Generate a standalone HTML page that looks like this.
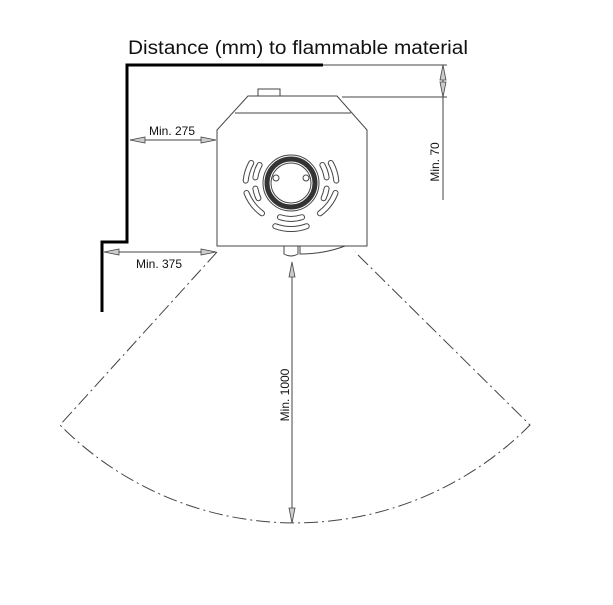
<!DOCTYPE html>
<html><head><style>body{margin:0;background:#fff}</style></head><body>
<svg width="613" height="600" xmlns="http://www.w3.org/2000/svg" font-family="Liberation Sans, sans-serif">
<rect width="613" height="600" fill="#fff"/>
<text x="128" y="54" font-size="19" textLength="340" lengthAdjust="spacingAndGlyphs" fill="#111">Distance (mm) to flammable material</text>
<polyline points="323,65 127,65 127,242 102,242 102,312" fill="none" stroke="#000" stroke-width="3"/>
<!-- stove -->
<g fill="none" stroke="#444" stroke-width="1">
<rect x="258" y="89" width="22" height="8"/>
<path d="M248,96 H337 L367,130 V246 H217 V130 Z" fill="#fff"/>
<line x1="235" y1="113" x2="351" y2="113"/>
<path d="M284,246 v8 q7,4 14,0 v-8 M300,246 v8 q24,0 45,-8"/>
</g>
<g id="vents" fill="none" stroke-linecap="round">
<g stroke="#444" stroke-width="6">
<path d="M255.4,177.4 A36,36 0 0 1 259.6,165.0"/>
<path d="M245.7,180.6 A46,46 0 0 1 251.2,163.0"/>
<path d="M258.4,198.2 A36,36 0 0 1 255.4,188.6"/>
<path d="M262.0,213.3 A46,46 0 0 1 246.5,193.0"/>
<path d="M280.0,217.2 A36,36 0 0 0 302.0,217.2"/>
<path d="M275.3,226.2 A46,46 0 0 0 306.7,226.2"/>
<path d="M326.6,188.6 A36,36 0 0 1 323.6,198.2"/>
<path d="M335.5,193.0 A46,46 0 0 1 320.0,213.3"/>
<path d="M322.4,165.0 A36,36 0 0 1 326.6,177.4"/>
<path d="M330.8,163.0 A46,46 0 0 1 336.3,180.6"/>
</g>
<g stroke="#fff" stroke-width="4">
<path d="M255.4,177.4 A36,36 0 0 1 259.6,165.0"/>
<path d="M245.7,180.6 A46,46 0 0 1 251.2,163.0"/>
<path d="M258.4,198.2 A36,36 0 0 1 255.4,188.6"/>
<path d="M262.0,213.3 A46,46 0 0 1 246.5,193.0"/>
<path d="M280.0,217.2 A36,36 0 0 0 302.0,217.2"/>
<path d="M275.3,226.2 A46,46 0 0 0 306.7,226.2"/>
<path d="M326.6,188.6 A36,36 0 0 1 323.6,198.2"/>
<path d="M335.5,193.0 A46,46 0 0 1 320.0,213.3"/>
<path d="M322.4,165.0 A36,36 0 0 1 326.6,177.4"/>
<path d="M330.8,163.0 A46,46 0 0 1 336.3,180.6"/>
</g>
</g>
<g fill="none" stroke="#444">
<circle cx="291" cy="183" r="28" stroke-width="1"/>
<circle cx="291" cy="183" r="24" stroke="#333" stroke-width="5"/>
<circle cx="291" cy="183" r="20" fill="#fff"/>
<circle cx="276" cy="178" r="3"/><circle cx="306" cy="178" r="3"/>
</g>
<!-- dash-dot sector -->
<path d="M217,252 L60,425 A331,331 0 0 0 530,425 L355,252" fill="none" stroke="#444" stroke-width="1" stroke-dasharray="14,4,2,4"/>
<!-- dims -->
<g stroke="#444" stroke-width="1" fill="none">
<line x1="323" y1="65" x2="447" y2="65"/>
<line x1="342" y1="97" x2="447" y2="97"/>
<line x1="443" y1="65" x2="443" y2="200"/>
<line x1="130" y1="140" x2="216" y2="140"/>
<line x1="104" y1="252" x2="216" y2="252"/>
<line x1="292" y1="262" x2="292" y2="523"/>
</g>
<g fill="#ccc" stroke="#444" stroke-width="0.8">
<path d="M130,140 l15,-3 v6 z"/><path d="M216,140 l-15,-3 v6 z"/>
<path d="M104,252 l15,-3 v6 z"/><path d="M216,252 l-15,-3 v6 z"/>
<path d="M443,65 l-3,15 h6 z"/><path d="M443,97 l-3,-15 h6 z"/>
<path d="M292,262 l-3,15 h6 z"/><path d="M292,523 l-3,-15 h6 z"/>
</g>
<g font-size="12" fill="#111">
<text x="172" y="135" text-anchor="middle">Min. 275</text>
<text x="159" y="268" text-anchor="middle">Min. 375</text>
<text transform="translate(439,162) rotate(-90)" text-anchor="middle">Min. 70</text>
<text transform="translate(289,395) rotate(-90)" text-anchor="middle">Min. 1000</text>
</g>
</svg>
</body></html>
